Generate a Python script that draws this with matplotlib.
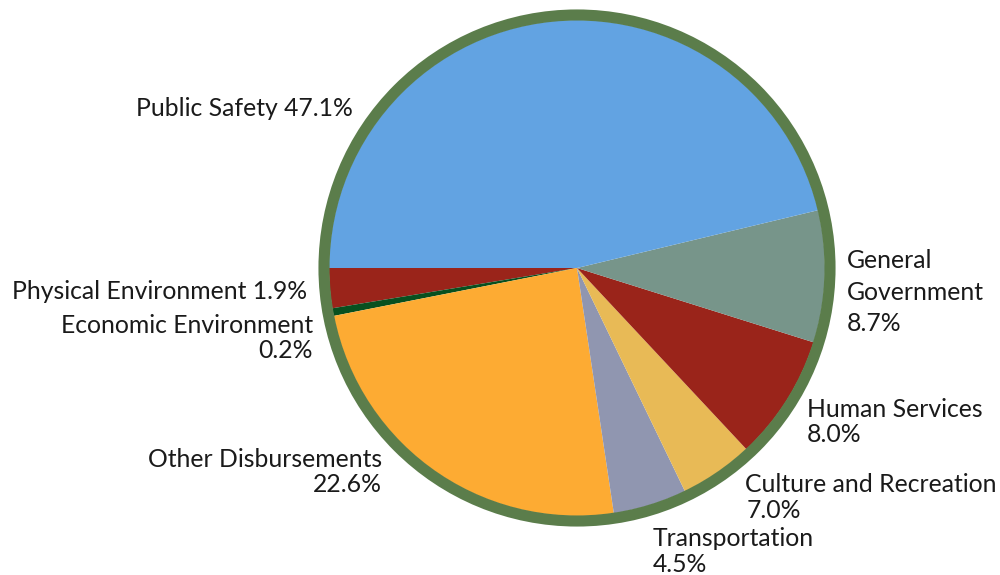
import matplotlib.pyplot as plt
from matplotlib.patches import Circle

# slices in drawing order (clockwise from 9 o'clock)
names = ['Physical Environment', 'Economic Environment', 'Other Disbursements',
         'Transportation', 'Culture and Recreation', 'Human Services',
         'General Government', 'Public Safety']
# wedge sizes as drawn in the picture (%)
shares = [2.6, 0.5, 24.3, 4.8, 4.8, 8.2, 8.6, 46.3]
# percentages as printed on the labels
printed = ['1.9%', '0.2%', '22.6%', '4.5%', '7.0%', '8.0%', '8.7%', '47.1%']
colors = ['#9A241A', '#08501F', '#FDAB33', '#9096B0', '#E8BA56', '#9A241A',
          '#77958A', '#62A3E2']

plt.rcParams['font.family'] = ['Lato', 'DejaVu Sans']

fig = plt.figure(figsize=(10, 5.75), dpi=100)
ax = fig.add_axes([0, 0, 1, 1])

cx, cy, r = 577, 268, 248
ax.pie(shares, colors=colors, startangle=180, counterclock=False,
       center=(cx, cy), radius=r, wedgeprops=dict(linewidth=0),
       frame=True)
ax.set_xlim(0, 1000)
ax.set_ylim(575, 0)   # pixel-like coords, y down
ax.set_aspect('equal')
ax.axis('off')
ax.add_patch(Circle((cx, cy), r + 5, fill=False, edgecolor='#5B7D4B',
                    linewidth=8, zorder=5))

# label layout: lines, x anchor, first baseline, alignment
layout = {
    'Public Safety':          (['Public Safety ' + printed[7]], 353, 116, 'right'),
    'Physical Environment':   (['Physical Environment ' + printed[0]], 307, 299, 'right'),
    'Economic Environment':   (['Economic Environment', printed[1]], 313, 333, 'right'),
    'Other Disbursements':    (['Other Disbursements', printed[2]], 382, 467, 'right'),
    'General Government':     (['General', 'Government', printed[6]], 847, 268, 'left'),
    'Human Services':         (['Human Services', printed[5]], 807, 417, 'left'),
    'Culture and Recreation': (['Culture and Recreation', printed[4]], 745, 492, 'left'),
    'Transportation':         (['Transportation', printed[3]], 653, 546, 'left'),
}
for name in names:
    lines, x, y0, ha = layout[name]
    step = 31.5 if name == 'General Government' else 25.5
    for i, line in enumerate(lines):
        xx = x + 2 if (name == 'Culture and Recreation' and i == 1) else x
        ax.text(xx, y0 + i * step, line, ha=ha, va='baseline',
                fontsize=17.8, color='#1A1A1A')

plt.savefig('out.png', dpi=100)
